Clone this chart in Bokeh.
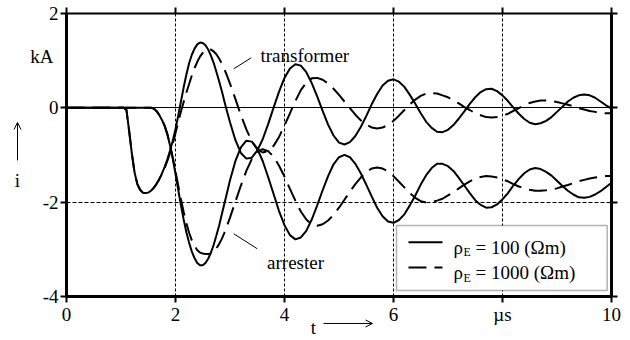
from bokeh.plotting import figure
from bokeh.models import (LinearAxis, FixedTicker, Grid, Label, Arrow, OpenHead,
                          BoxAnnotation, Range1d)
from bokeh.embed import file_html
from bokeh.resources import INLINE

FONT = "Liberation Serif"
FS = "19px"

# time axis in microseconds
t = [0.0, 1.0, 1.05, 1.1, 1.15, 1.2, 1.25, 1.3, 1.35, 1.4, 1.45, 1.5, 1.55, 1.6,
     1.65, 1.7, 1.75, 1.8, 1.85, 1.9, 1.95, 2.0, 2.05, 2.1, 2.15, 2.2, 2.25, 2.3,
     2.35, 2.4, 2.45, 2.5, 2.55, 2.6, 2.65, 2.7, 2.75, 2.8, 2.85, 2.9, 2.95, 3.0,
     3.1, 3.2, 3.3, 3.4, 3.5, 3.6, 3.7, 3.8, 3.9, 4.0,
     4.1, 4.2, 4.3, 4.4, 4.5, 4.6, 4.7, 4.8, 4.9, 5.0,
     5.1, 5.2, 5.3, 5.4, 5.5, 5.6, 5.7, 5.8, 5.9, 6.0,
     6.1, 6.2, 6.3, 6.4, 6.5, 6.6, 6.7, 6.8, 6.9, 7.0,
     7.1, 7.2, 7.3, 7.4, 7.5, 7.6, 7.7, 7.8, 7.9, 8.0,
     8.1, 8.2, 8.3, 8.4, 8.5, 8.6, 8.7, 8.8, 8.9, 9.0,
     9.1, 9.2, 9.3, 9.4, 9.5, 9.6, 9.7, 9.8, 9.9, 10.0]

# transformer current, rho_E = 100 Ohm m (kA)
trafo_100 = [0, 0, 0, -0.05, -0.50, -0.98, -1.38, -1.62, -1.74, -1.80, -1.81, -1.80,
             -1.76, -1.70, -1.62, -1.52, -1.40, -1.26, -1.10, -0.91, -0.70, -0.46,
             -0.17, 0.13, 0.43, 0.70, 0.94, 1.12, 1.25, 1.34, 1.38, 1.37, 1.32, 1.23,
             1.10, 0.95, 0.76, 0.56, 0.35, 0.12, -0.10, -0.31,
             -0.69, -0.96, -1.08, -1.06, -0.91, -0.67, -0.35, 0.00, 0.34, 0.63,
             0.83, 0.92, 0.89, 0.75, 0.52, 0.24, -0.07, -0.36, -0.59, -0.74,
             -0.78, -0.73, -0.60, -0.41, -0.18, 0.07, 0.29, 0.47, 0.57, 0.60,
             0.55, 0.44, 0.27, 0.08, -0.12, -0.30, -0.43, -0.51, -0.52, -0.47,
             -0.37, -0.23, -0.08, 0.08, 0.22, 0.33, 0.39, 0.40, 0.35, 0.26,
             0.14, 0.00, -0.13, -0.24, -0.32, -0.35, -0.33, -0.28, -0.20, -0.09,
             0.02, 0.13, 0.21, 0.26, 0.28, 0.26, 0.21, 0.13, 0.05, -0.02]

# arrester current, rho_E = 100 Ohm m (kA)
arrester_100 = [0, 0, 0, 0, 0, 0, 0, 0, 0, 0, 0, 0, 0,
                -0.02, -0.07, -0.15, -0.26, -0.38, -0.56, -0.80, -1.08, -1.40, -1.74,
                -2.07, -2.37, -2.64, -2.86, -3.05, -3.19, -3.29, -3.34, -3.34, -3.29,
                -3.20, -3.07, -2.91, -2.71, -2.50, -2.26, -2.02, -1.78, -1.54,
                -1.13, -0.84, -0.70, -0.72, -0.87, -1.13, -1.47, -1.83, -2.19, -2.49,
                -2.70, -2.79, -2.75, -2.61, -2.37, -2.07, -1.75, -1.45, -1.20, -1.05,
                -1.00, -1.05, -1.19, -1.39, -1.63, -1.88, -2.12, -2.30, -2.41, -2.44,
                -2.38, -2.26, -2.07, -1.86, -1.63, -1.43, -1.28, -1.19, -1.19, -1.24,
                -1.34, -1.49, -1.65, -1.81, -1.96, -2.06, -2.12, -2.11, -2.05, -1.94,
                -1.81, -1.65, -1.51, -1.39, -1.31, -1.28, -1.30, -1.36, -1.44, -1.55,
                -1.66, -1.76, -1.84, -1.90, -1.91, -1.89, -1.84, -1.77, -1.68, -1.59]

# transformer current, rho_E = 1000 Ohm m (kA)
trafo_1000 = [0, 0, 0, -0.05, -0.50, -0.98, -1.38, -1.62, -1.74, -1.80, -1.81, -1.80,
              -1.76, -1.70, -1.62, -1.52,
              -1.41, -1.28, -1.13, -0.96, -0.76, -0.54, -0.31, -0.08, 0.12, 0.32,
              0.50, 0.68, 0.84, 0.97, 1.08, 1.16, 1.22, 1.24, 1.23, 1.19,
              1.13, 1.04, 0.93, 0.81, 0.66, 0.51,
              0.18, -0.16, -0.46, -0.71, -0.88, -0.95, -0.92, -0.81, -0.62, -0.38,
              -0.12, 0.14, 0.37, 0.53, 0.62, 0.63, 0.59, 0.51, 0.40, 0.27,
              0.13, -0.01, -0.15, -0.27, -0.36, -0.42, -0.44, -0.42, -0.37, -0.28,
              -0.17, -0.05, 0.07, 0.17, 0.25, 0.30, 0.31, 0.30, 0.26, 0.22,
              0.15, 0.09, 0.01, -0.05, -0.12, -0.16, -0.20, -0.21, -0.20, -0.18,
              -0.13, -0.07, -0.01, 0.05, 0.10, 0.13, 0.15, 0.15, 0.14, 0.12,
              0.09, 0.06, 0.03, -0.01, -0.04, -0.07, -0.09, -0.11, -0.12, -0.12]

# arrester current, rho_E = 1000 Ohm m (kA)
arrester_1000 = [0, 0, 0, 0, 0, 0, 0, 0, 0, 0, 0, 0, 0,
                 -0.02, -0.07, -0.15, -0.26, -0.38, -0.56, -0.79, -1.06, -1.35, -1.65,
                 -1.94, -2.21, -2.45, -2.65, -2.81, -2.93, -3.02, -3.07, -3.09, -3.10,
                 -3.10, -3.09, -3.05, -2.98, -2.89, -2.78, -2.64, -2.49, -2.33,
                 -1.99, -1.65, -1.34, -1.09, -0.93, -0.88, -0.92, -1.04, -1.23, -1.46,
                 -1.72, -1.97, -2.20, -2.37, -2.47, -2.50, -2.47, -2.39, -2.27, -2.12,
                 -1.95, -1.78, -1.62, -1.48, -1.36, -1.29, -1.27, -1.29, -1.35, -1.45,
                 -1.57, -1.69, -1.81, -1.91, -1.98, -2.01, -2.00, -1.97, -1.93, -1.86,
                 -1.79, -1.71, -1.63, -1.56, -1.50, -1.47, -1.45, -1.46, -1.48, -1.52,
                 -1.56, -1.62, -1.67, -1.71, -1.74, -1.76, -1.76, -1.75, -1.73, -1.71,
                 -1.67, -1.64, -1.60, -1.56, -1.53, -1.50, -1.48, -1.46, -1.45, -1.45]

x_ticks = [0, 2, 4, 6, 8, 10]
x_tick_labels = {0: "0", 2: "2", 4: "4", 6: "6", 8: "\u00b5s", 10: "10"}
y_ticks = [-4, -2, 0, 2]
y_tick_labels = {-4: "-4", -2: "-2", 0: "0", 2: "2"}

T_MIN, T_MAX = 0, 10
I_MIN, I_MAX = -4, 2
DASH = "18 8"

# the frame fills the whole canvas; axes sit at fixed data positions inside it
p = figure(width=630, height=340,
           x_range=Range1d(-1.211, 10.349), y_range=Range1d(-4.932, 2.269),
           output_backend="svg", toolbar_location=None,
           x_axis_location=None, y_axis_location=None, min_border=0)
p.xgrid.visible = False
p.ygrid.visible = False
p.outline_line_color = None
p.background_fill_color = "white"
p.border_fill_color = "white"


def style_axis(ax):
    ax.axis_line_color = "black"
    ax.axis_line_width = 3
    ax.major_tick_line_color = "black"
    ax.major_tick_line_width = 2
    ax.major_tick_in = 0
    ax.major_tick_out = 6
    ax.minor_tick_line_color = None
    ax.major_label_text_font = FONT
    ax.major_label_text_font_size = FS
    ax.major_label_text_color = "black"
    ax.major_label_standoff = 2


xa = LinearAxis(ticker=FixedTicker(ticks=x_ticks), fixed_location=I_MIN,
                bounds=(T_MIN, T_MAX), major_label_overrides=x_tick_labels)
style_axis(xa)
p.add_layout(xa, "below")

ya = LinearAxis(ticker=FixedTicker(ticks=y_ticks), fixed_location=T_MIN,
                bounds=(I_MIN, I_MAX), major_label_overrides=y_tick_labels)
style_axis(ya)
p.add_layout(ya, "left")


def grid(dim, ticks, cross, width=1, dash="solid"):
    p.add_layout(Grid(dimension=dim, ticker=FixedTicker(ticks=ticks),
                      cross_bounds=cross, grid_line_color="black",
                      grid_line_width=width, grid_line_dash=dash))


# reference lines inside the box
grid(0, [2, 4, 6, 8], (I_MIN, I_MAX), dash="3 2")
grid(1, [-2], (T_MIN, T_MAX), dash="4 2")
grid(1, [0], (T_MIN, T_MAX))
# top and right border with outward tick marks
grid(1, [I_MAX], (T_MIN, T_MAX), width=2)
grid(0, x_ticks, (I_MAX, I_MAX + 0.127), width=2)
grid(0, [T_MAX], (I_MIN, I_MAX), width=3)
grid(1, y_ticks, (T_MAX, T_MAX + 0.11), width=2)

# current curves
p.line(t, trafo_100, line_color="black", line_width=2)
p.line(t, arrester_100, line_color="black", line_width=2)
p.line(t, trafo_1000, line_color="black", line_width=2, line_dash=DASH)
p.line(t, arrester_1000, line_color="black", line_width=2, line_dash=DASH)


def label(x, y, text, size=FS, align="left", baseline="alphabetic"):
    p.add_layout(Label(x=x, y=y, text=text, text_font=FONT, text_font_size=size,
                       text_color="black", text_align=align,
                       text_baseline=baseline))


def stroke(x0, y0, x1, y1, width=1, dash="solid", head=None):
    p.add_layout(Arrow(x_start=x0, y_start=y0, x_end=x1, y_end=y1, end=head,
                       line_color="black", line_width=width, line_dash=dash))


# curve annotations with pointer strokes
label(3.56, 1.104, "transformer")
stroke(3.07, 0.823, 3.39, 1.056)
label(3.68, -3.273, "arrester")
stroke(3.07, -2.672, 3.50, -2.989)

# quantity labels next to the axes
label(-0.239, 1.083, "kA", align="right", baseline="middle")
label(-0.899, -1.543, "i", align="center")
stroke(-0.899, -1.119, -0.899, -0.315,
       head=OpenHead(size=7, line_width=1, line_color="black"))
label(4.53, -4.656, "t", align="center")
stroke(4.716, -4.571, 5.615, -4.571,
       head=OpenHead(size=7, line_width=1, line_color="black"))

# legend
p.add_layout(BoxAnnotation(left=6.055, right=9.921, top=-2.496, bottom=-3.873,
                           fill_color="white", fill_alpha=1.0,
                           line_color="black", line_width=1.5))
stroke(6.275, -2.850, 6.899, -2.850, width=2)
stroke(6.275, -3.386, 6.899, -3.386, width=2, dash=DASH)
for yb, ys, txt in [(-2.969, -3.062, "= 100 (\u03a9m)"),
                    (-3.486, -3.604, "= 1000 (\u03a9m)")]:
    label(7.101, yb, "\u03c1")
    label(7.284, ys, "E", size="12px")
    label(7.505, yb, txt)

open("out.html", "w").write(file_html(p, INLINE))
